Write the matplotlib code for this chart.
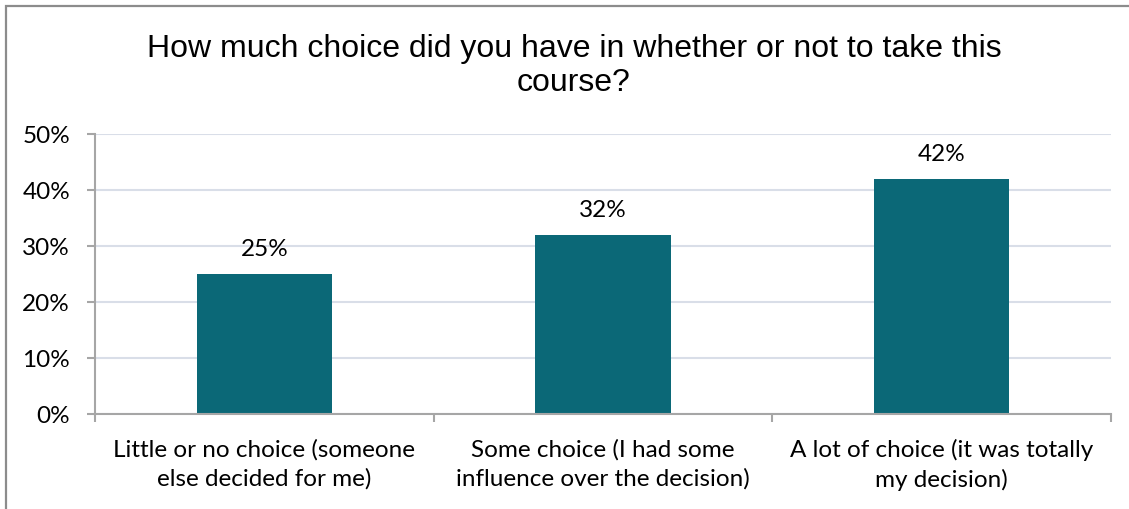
import matplotlib
matplotlib.use("Agg")
import matplotlib.pyplot as plt
from matplotlib.patches import Rectangle
from matplotlib.ticker import FixedLocator, PercentFormatter

categories = [
    "Little or no choice (someone\nelse decided for me)",
    "Some choice (I had some\ninfluence over the decision)",
    "A lot of choice (it was totally\nmy decision)",
]
values = [25, 32, 42]
y_ticks = [0, 10, 20, 30, 40, 50]
title = "How much choice did you have in whether or not to take this\ncourse?"

BAR_COLOR = "#0B6877"
GRID_COLOR = "#D9DEE8"
AXIS_COLOR = "#A6A6A6"
LABEL_FONT = ["Lato", "DejaVu Sans"]
TITLE_FONT = ["Liberation Sans", "DejaVu Sans"]
LABEL_SIZE = 17.5

W, H, DPI = 1129, 510, 100
fig = plt.figure(figsize=(W / DPI, H / DPI), dpi=DPI)

# outer chart frame (only left and top edges fall inside the canvas)
fig.patches.append(Rectangle((6 / W, -0.1), 1.2, 1 - 7 / H + 0.1,
                             transform=fig.transFigure, fill=False,
                             edgecolor="#8C8C8C", linewidth=1.6))

ax = fig.add_axes([95 / W, 1 - 415 / H, (1111 - 95) / W, (415 - 135) / H])

x = list(range(len(categories)))
bars = ax.bar(x, values, width=0.4, color=BAR_COLOR, zorder=3)

ax.set_xlim(-0.5, len(categories) - 0.5)
ax.set_ylim(y_ticks[0], y_ticks[-1])
ax.set_yticks(y_ticks)
ax.yaxis.set_major_formatter(PercentFormatter(decimals=0))
ax.yaxis.grid(True, color=GRID_COLOR, linewidth=1.5, zorder=0)

# category boundaries carry the tick marks, centres carry the labels
ax.xaxis.set_major_locator(FixedLocator([i - 0.5 for i in range(len(categories) + 1)]))
ax.xaxis.set_minor_locator(FixedLocator(x))
ax.set_xticklabels([], minor=False)
ax.set_xticklabels(categories, minor=True, fontfamily=LABEL_FONT,
                   fontsize=LABEL_SIZE, linespacing=1.45)
ax.tick_params(axis="x", which="major", length=6, width=1.5, color=AXIS_COLOR)
ax.tick_params(axis="x", which="minor", length=0, pad=17)
ax.tick_params(axis="y", length=6, width=1.5, color=AXIS_COLOR, pad=12,
               labelsize=LABEL_SIZE)
for lbl in ax.get_yticklabels():
    lbl.set_fontfamily(LABEL_FONT)

for side in ("top", "right"):
    ax.spines[side].set_visible(False)
for side in ("left", "bottom"):
    ax.spines[side].set_color(AXIS_COLOR)
    ax.spines[side].set_linewidth(1.5)
    ax.spines[side].set_zorder(4)

for rect, v in zip(bars, values):
    ax.annotate(f"{v}%", (rect.get_x() + rect.get_width() / 2, v),
                xytext=(0, 11), textcoords="offset points",
                ha="center", va="bottom", fontsize=LABEL_SIZE,
                fontfamily=LABEL_FONT)

fig.text(574 / W, 1 - 66 / H, title, ha="center", va="center",
         fontsize=23, fontfamily=TITLE_FONT, linespacing=1.2)

fig.savefig("out.png", dpi=DPI)
